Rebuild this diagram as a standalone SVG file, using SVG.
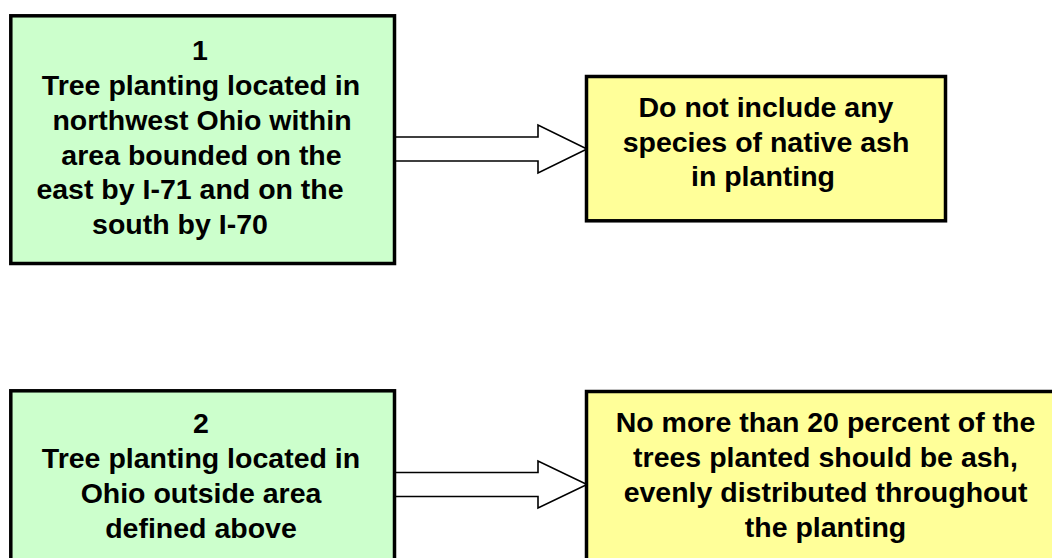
<svg xmlns="http://www.w3.org/2000/svg" width="1052" height="558" viewBox="0 0 1052 558">
<style>
.box{stroke:#000;stroke-width:3.5}
.g{fill:#CCFFCC}
.y{fill:#FFFF99}
.t{font-weight:700;font-size:28.5px;fill:#000;text-anchor:middle}
.arr{fill:#fff;stroke:#000;stroke-width:1.6;stroke-linejoin:miter}
</style>
<rect width="1052" height="558" fill="#fff"/>
<g id="connectors">
<path class="arr" d="M394,137 H538 V125 L587,149 L538,173 V161 H394"/>
<path class="arr" d="M394,472.5 H538 V461 L587,484.5 L538,508 V496.5 H394"/>
</g>
<g id="node1">
<rect class="box g" x="10.8" y="15.8" width="383.7" height="247.7"/>
<text class="t" font-family="'Liberation Sans', Arimo, Arial, Helvetica, sans-serif"><tspan x="200" y="60">1</tspan><tspan x="201" y="95">Tree planting located in</tspan><tspan x="202" y="129.8">northwest Ohio within</tspan><tspan x="201.5" y="164.6">area bounded on the</tspan><tspan x="190" y="199.4">east by I-71 and on the</tspan><tspan x="180" y="234">south by I-70</tspan></text>
</g>
<g id="node2">
<rect class="y box" x="586.5" y="76.5" width="359" height="144.3"/>
<text class="t" font-family="'Liberation Sans', Arimo, Arial, Helvetica, sans-serif"><tspan x="766" y="117">Do not include any</tspan><tspan x="766" y="151.5">species of native ash</tspan><tspan x="763" y="186">in planting</tspan></text>
</g>
<g id="node3">
<rect class="box g" x="10.8" y="390.8" width="383.7" height="200"/>
<text class="t" font-family="'Liberation Sans', Arimo, Arial, Helvetica, sans-serif"><tspan x="201" y="433">2</tspan><tspan x="201" y="468">Tree planting located in</tspan><tspan x="201" y="503">Ohio outside area</tspan><tspan x="201" y="537.5">defined above</tspan></text>
</g>
<g id="node4">
<rect class="y box" x="586.5" y="391.5" width="480" height="200"/>
<text class="t" font-family="'Liberation Sans', Arimo, Arial, Helvetica, sans-serif"><tspan x="825.5" y="432">No more than 20 percent of the</tspan><tspan x="825.5" y="467">trees planted should be ash,</tspan><tspan x="825.5" y="502">evenly distributed throughout</tspan><tspan x="825.5" y="537">the planting</tspan></text>
</g>
</svg>
